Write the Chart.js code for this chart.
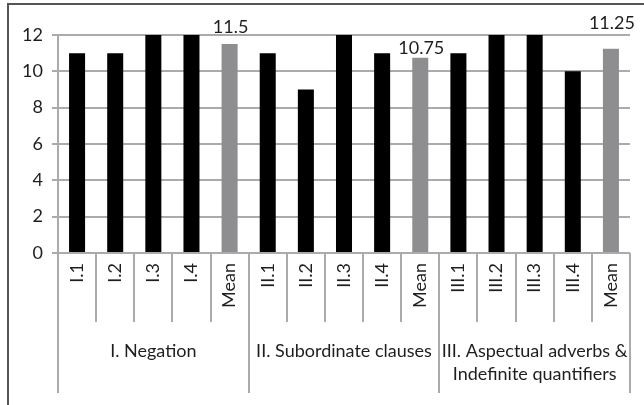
<!DOCTYPE html>
<html><head><meta charset="utf-8">
<script src="https://cdn.jsdelivr.net/npm/chart.js@4.4.1/dist/chart.umd.min.js"></script>
<style>html,body{margin:0;padding:0;background:#fff;}canvas{display:block;}</style>
</head><body>
<canvas id="c" width="644" height="405"></canvas>
<script>
// ---- data ----
const categories = ['I.1','I.2','I.3','I.4','Mean','II.1','II.2','II.3','II.4','Mean','III.1','III.2','III.3','III.4','Mean'];
const values = [11,11,12,12,11.5, 11,9,12,11,10.75, 11,12,12,10,11.25];
const groupNames = [['I. Negation'],['II. Subordinate clauses'],['III. Aspectual adverbs &','Indefinite quantifiers']];
const groupSizes = [5,5,5];
const yMin = 0, yMax = 12, yStep = 2;

// ---- style ----
const FONT = 'Lato, "Open Sans", sans-serif';
const FSIZE = 18;
const TEXT = '#1e1e1e';
const GRID = '#ababab';
const BAR = '#000000';
const MEAN_BAR = '#8e8e91';
const meanLabelLift = [17, 10, 25];

const colors = categories.map(c => c === 'Mean' ? MEAN_BAR : BAR);

const extras = {
  id: 'extras',
  afterDraw(chart) {
    const ctx = chart.ctx;
    const x = chart.scales.x, y = chart.scales.y;
    const w = x.getPixelForValue(1) - x.getPixelForValue(0);
    const bottom = chart.chartArea.bottom;
    const boundary = i => x.getPixelForValue(i) - w / 2;
    ctx.save();
    ctx.strokeStyle = GRID;
    ctx.lineWidth = 2;
    for (let i = 0; i <= categories.length; i++) {
      const bx = Math.round(boundary(i));
      ctx.beginPath(); ctx.moveTo(bx, bottom); ctx.lineTo(bx, bottom + 69); ctx.stroke();
    }
    let idx = 0;
    const gb = [0];
    groupSizes.forEach(s => { idx += s; gb.push(idx); });
    gb.forEach(i => {
      const bx = Math.round(boundary(i));
      ctx.beginPath(); ctx.moveTo(bx, bottom); ctx.lineTo(bx, bottom + 140); ctx.stroke();
    });
    ctx.fillStyle = TEXT;
    ctx.font = FSIZE + 'px ' + FONT;
    ctx.textAlign = 'center';
    ctx.textBaseline = 'middle';
    groupNames.forEach((lines, g) => {
      const cx = (boundary(gb[g]) + boundary(gb[g + 1])) / 2;
      lines.forEach((t, k) => ctx.fillText(t, cx, bottom + 98 + k * 23));
    });
    let m = 0;
    categories.forEach((c, i) => {
      if (c !== 'Mean') return;
      const px = x.getPixelForValue(i);
      const py = y.getPixelForValue(values[i]);
      ctx.fillText(String(values[i]), px + 1, py - meanLabelLift[m]);
      m++;
    });
    ctx.strokeStyle = '#555555';
    ctx.lineWidth = 2;
    ctx.beginPath(); ctx.moveTo(644, 4); ctx.lineTo(8, 4); ctx.lineTo(8, 405); ctx.stroke();
    ctx.restore();
  }
};

Chart.defaults.font.family = FONT;
Chart.defaults.font.size = FSIZE;
Chart.defaults.color = TEXT;

new Chart(document.getElementById('c'), {
  type: 'bar',
  data: {
    labels: categories,
    datasets: [{ data: values, backgroundColor: colors, barPercentage: 0.42, categoryPercentage: 1 }]
  },
  options: {
    responsive: false,
    animation: false,
    layout: { padding: { left: 0, right: 14, top: 35, bottom: 0 } },
    plugins: { legend: { display: false }, tooltip: { enabled: false } },
    scales: {
      x: {
        grid: { display: false, drawTicks: false },
        border: { display: false },
        ticks: { minRotation: 90, maxRotation: 90, padding: 10, autoSkip: false },
        afterFit(s) { s.height = 152; }
      },
      y: {
        min: yMin, max: yMax,
        ticks: { stepSize: yStep, padding: 9 },
        grid: { color: GRID, lineWidth: 2, tickLength: 6 },
        border: { color: GRID, width: 2 },
        afterFit(s) { s.width = 58; }
      }
    }
  },
  plugins: [extras]
});
</script>
</body></html>
